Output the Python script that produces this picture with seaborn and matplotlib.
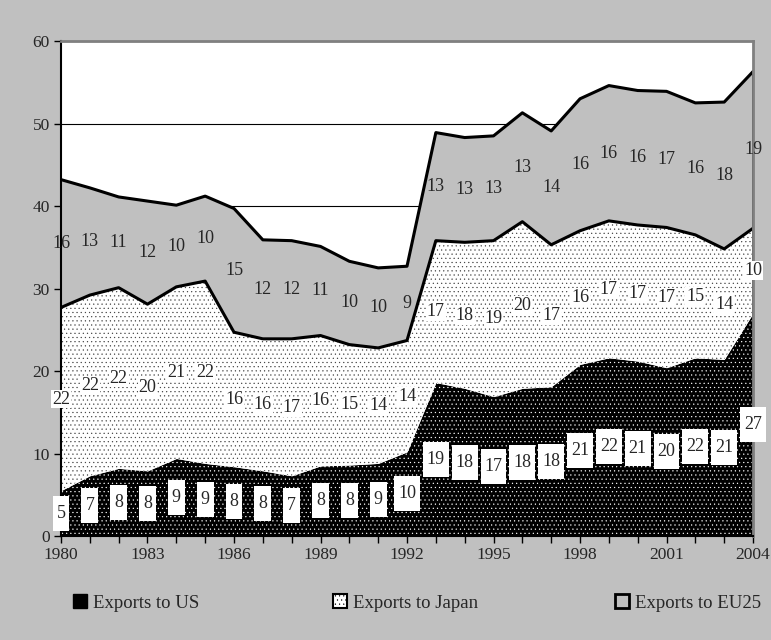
import numpy as np
import pandas as pd
import seaborn as sns
import matplotlib.pyplot as plt
from matplotlib.patches import Patch
from matplotlib.path import Path

years = list(range(1980, 2005))
us = [5.5, 7.3, 8.2, 7.9, 9.4, 8.8, 8.4, 7.9, 7.3, 8.5, 8.6, 8.8, 10.2, 18.6, 17.9, 16.9, 17.9, 18.1,
      20.8, 21.6, 21.2, 20.4, 21.6, 21.4, 27.0]
japan = [22.2, 21.9, 21.9, 20.2, 20.8, 22.1, 16.3, 16.0, 16.6, 15.8, 14.6, 14.0, 13.5, 17.2, 17.7, 18.9,
         20.2, 17.2, 16.2, 16.6, 16.5, 17.0, 14.9, 13.4, 10.3]
eu25 = [15.5, 13.0, 11.0, 12.5, 9.9, 10.3, 15.0, 12.0, 11.9, 10.8, 10.1, 9.7, 9.0, 13.1, 12.7, 12.7,
        13.2, 13.8, 16.0, 16.4, 16.3, 16.5, 16.0, 17.8, 19.0]
us_lbl = [5, 7, 8, 8, 9, 9, 8, 8, 7, 8, 8, 9, 10, 19, 18, 17, 18, 18, 21, 22, 21, 20, 22, 21, 27]
jp_lbl = [22, 22, 22, 20, 21, 22, 16, 16, 17, 16, 15, 14, 14, 17, 18, 19, 20, 17, 16, 17, 17, 17, 15, 14, 10]
eu_lbl = [16, 13, 11, 12, 10, 10, 15, 12, 12, 11, 10, 10, 9, 13, 13, 13, 13, 14, 16, 16, 16, 17, 16, 18, 19]
legend_labels = ['Exports to US', 'Exports to Japan', 'Exports to EU25']

df = pd.DataFrame({'year': years, 'us': us, 'japan': japan, 'eu25': eu25})
df['jp_top'] = df['us'] + df['japan']
df['total'] = df['jp_top'] + df['eu25']

GREY = '#c0c0c0'
sns.set_style('white')
plt.rcParams['font.family'] = ['Liberation Serif', 'DejaVu Serif']
plt.rcParams['hatch.linewidth'] = 0.35

fig = plt.figure(figsize=(7.71, 6.4), dpi=100, facecolor=GREY)
ax = fig.add_axes([0.0791, 0.1625, 0.8976, 0.7734])
ax.set_facecolor('white')

# areas
ax.fill_between(df['year'], 0, df['us'], color='black', lw=0, zorder=2)
ax.fill_between(df['year'], 0, df['us'], facecolor='none', edgecolor='white', hatch='....', lw=0, zorder=2)
ax.fill_between(df['year'], df['us'], df['jp_top'], color='white', lw=0, zorder=2)
ax.fill_between(df['year'], df['us'], df['jp_top'], facecolor='none', edgecolor='#404040', hatch='....', lw=0, zorder=2)
ax.fill_between(df['year'], df['jp_top'], df['total'], color=GREY, lw=0, zorder=2)

sns.lineplot(data=df, x='year', y='jp_top', color='black', lw=2.2, ax=ax, zorder=2.2)
sns.lineplot(data=df, x='year', y='total', color='black', lw=2.2, ax=ax, zorder=2.2)
ax.vlines(df['year'].iloc[-1], 0, df['total'].iloc[-1], color='black', lw=2, zorder=2.2)


def tall_box(x0, y0, width, height, mutation_size):
    px, py = 0.22 * mutation_size, 0.5 * mutation_size
    x0, y0 = x0 - px, y0 - py
    x1, y1 = x0 + width + 2 * px, y0 + height + 2 * py
    return Path([(x0, y0), (x1, y0), (x1, y1), (x0, y1), (x0, y0)], closed=True)


for i, yr in enumerate(years):
    ax.text(yr, df['us'][i] / 2, str(us_lbl[i]), ha='center', va='center', fontsize=13, zorder=4,
            clip_on=False, bbox=dict(boxstyle=tall_box, fc='white', ec='none'))
    ax.text(yr, (df['us'][i] + df['jp_top'][i]) / 2, str(jp_lbl[i]), ha='center', va='center', fontsize=13,
            zorder=4, clip_on=False, bbox=dict(boxstyle='square,pad=0.05', fc='white', ec='none'))
    ax.text(yr, (df['jp_top'][i] + df['total'][i]) / 2, str(eu_lbl[i]), ha='center', va='center',
            fontsize=13, zorder=4, clip_on=False)

ax.set_xlim(1980, 2004)
ax.set_ylim(0, 60)
ax.set_xticks(years)
ax.set_xticklabels([str(y) if (y - 1980) % 3 == 0 else '' for y in years])
ax.set_yticks(range(0, 61, 10))
ax.yaxis.grid(True, color='black', lw=0.8)
ax.set_axisbelow(True)
ax.tick_params(axis='both', direction='out', length=5, width=1, color='black', labelsize=12.5, pad=3,
               bottom=True, left=True)
ax.set_xlabel('')
ax.set_ylabel('')
for s in ['left', 'bottom']:
    ax.spines[s].set_color('black')
    ax.spines[s].set_linewidth(1.5)
for s in ['top', 'right']:
    ax.spines[s].set_color('#808080')
    ax.spines[s].set_linewidth(2)

handles = [Patch(facecolor='black', edgecolor='black', lw=1),
           Patch(facecolor='white', edgecolor='black', hatch='....', lw=1.5),
           Patch(facecolor=GREY, edgecolor='black', lw=2)]
for h, lab, xpos in zip(handles, legend_labels, [73 / 771, 333 / 771, 615 / 771]):
    leg = fig.legend([h], [lab], loc='center left', bbox_to_anchor=(xpos, 0.058), frameon=False,
                     borderpad=0, borderaxespad=0, handlelength=0.75, handleheight=0.75,
                     handletextpad=0.3, fontsize=13.5)

fig.savefig('out.png', dpi=100, facecolor=GREY)
